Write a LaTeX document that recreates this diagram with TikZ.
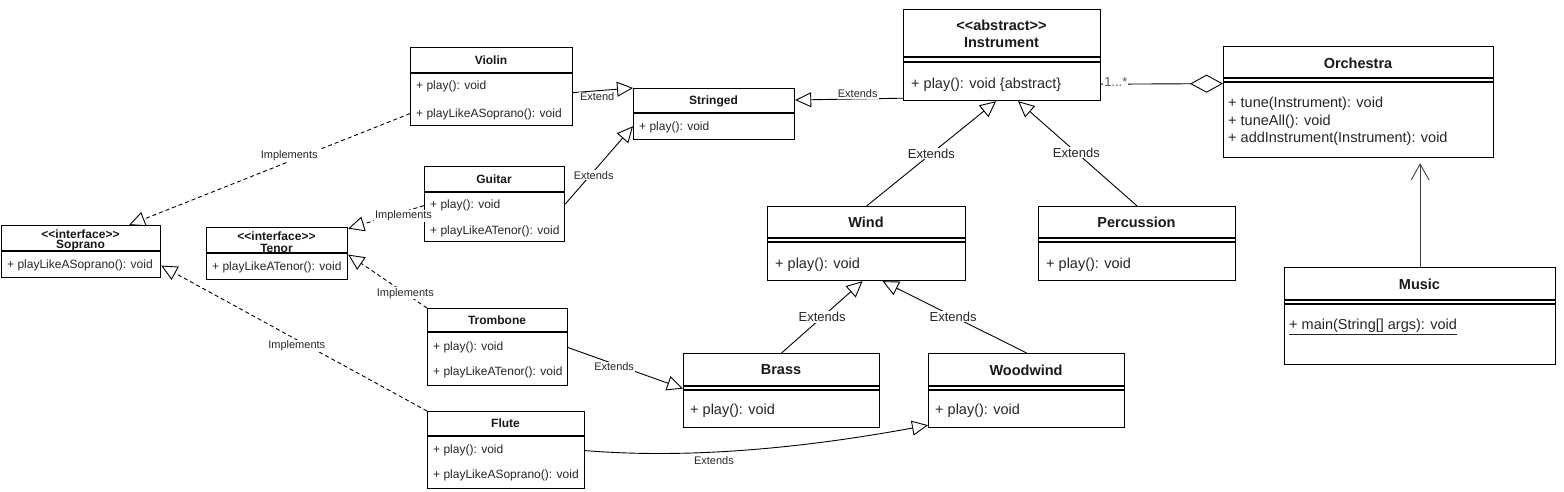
\documentclass[tikz,border=0pt]{standalone}
\usepackage{fontspec}
\setmainfont{Liberation Sans}
\usetikzlibrary{arrows.meta,calc}
\newcommand\stL{<\kern0pt<}
\newcommand\stR{>\kern0pt>}
\begin{document}
\begin{tikzpicture}[x=1pt,y=-1pt,
  box/.style={draw, line width=1.2pt, inner sep=0pt, anchor=north west},
  sep/.style={line width=1.1pt},
  ltitle/.style={font=\fontsize{12}{12}\bfseries, text=black!90, inner sep=0pt},
  lattr/.style={font=\fontsize{12}{13}\selectfont, anchor=west, inner sep=0pt, text=black!85},
  rtitle/.style={font=\fontsize{14.5}{15}\bfseries, text=black!90, inner sep=0pt},
  rattr/.style={font=\fontsize{14.5}{16}\selectfont, anchor=west, inner sep=0pt, text=black!85},
  lbl/.style={font=\fontsize{11}{12}\selectfont, fill=white, inner sep=1pt, text=black!85},
  rlbl/.style={font=\fontsize{13}{14}\selectfont, fill=white, inner sep=1pt, text=black!85},
  ext/.style={line width=0.9pt, -{Triangle[open, length=16pt, width=15pt]}},
  impl/.style={ext, dash pattern=on 4pt off 3pt},
]
\fill[white] (0,0) rectangle (1564,492);
\useasboundingbox (0,0) rectangle (1564,492);

% ---------- Violin
\node[box, minimum width=162pt, minimum height=78pt] (violin) at (410,47) {};
\draw[sep] (410,73) -- (572,73);
\node[ltitle] at (491,60) {Violin};
\node[lattr] at (416,86) {+ play(): void};
\node[lattr] at (416,114) {+ playLikeASoprano(): void};

% ---------- Stringed
\node[box, minimum width=161pt, minimum height=51pt] (stringed) at (633,88) {};
\draw[sep] (633,113) -- (794,113);
\node[ltitle] at (713.5,101) {Stringed};
\node[lattr] at (639,127) {+ play(): void};

% ---------- Soprano
\node[box, minimum width=159pt, minimum height=52pt] (soprano) at (1,225) {};
\draw[sep] (1,251) -- (160,251);
\node[ltitle] at (80.5,234) {\stL interface\stR};
\node[ltitle] at (80.5,246) {Soprano};
\node[lattr] at (7,265) {+ playLikeASoprano(): void};

% ---------- Tenor
\node[box, minimum width=141pt, minimum height=52pt] (tenor) at (206,227) {};
\draw[sep] (206,253) -- (347,253);
\node[ltitle] at (276.5,236) {\stL interface\stR};
\node[ltitle] at (276.5,248) {Tenor};
\node[lattr] at (212,267) {+ playLikeATenor(): void};

% ---------- Guitar
\node[box, minimum width=140pt, minimum height=75pt] (guitar) at (424,166) {};
\draw[sep] (424,192) -- (564,192);
\node[ltitle] at (494,179) {Guitar};
\node[lattr] at (430,205) {+ play(): void};
\node[lattr] at (430,231) {+ playLikeATenor(): void};

% ---------- Trombone
\node[box, minimum width=140pt, minimum height=77pt] (trombone) at (427,308) {};
\draw[sep] (427,332) -- (567,332);
\node[ltitle] at (497,320) {Trombone};
\node[lattr] at (433,347) {+ play(): void};
\node[lattr] at (433,372) {+ playLikeATenor(): void};

% ---------- Flute
\node[box, minimum width=157pt, minimum height=77pt] (flute) at (427,411) {};
\draw[sep] (427,436) -- (584,436);
\node[ltitle] at (505.5,423) {Flute};
\node[lattr] at (433,450) {+ play(): void};
\node[lattr] at (433,475) {+ playLikeASoprano(): void};

% ---------- Instrument
\node[box, minimum width=197pt, minimum height=91pt] (instrument) at (903,9) {};
\draw[sep] (903,57) -- (1100,57);
\draw[sep] (903,62) -- (1100,62);
\node[rtitle] at (1001.5,25) {\stL abstract\stR};
\node[rtitle] at (1001.5,43) {Instrument};
\node[rattr] at (911,85) {+ play(): void \{abstract\}};

% ---------- Orchestra
\node[box, minimum width=270pt, minimum height=111pt] (orchestra) at (1223,46) {};
\draw[sep] (1223,78) -- (1493,78);
\draw[sep] (1223,82) -- (1493,82);
\node[rtitle] at (1358,63) {Orchestra};
\node[rattr] at (1228,104) {+ tune(Instrument): void};
\node[rattr] at (1228,122) {+ tuneAll(): void};
\node[rattr] at (1228,139) {+ addInstrument(Instrument): void};

% ---------- Wind
\node[box, minimum width=198pt, minimum height=74pt] (wind) at (767,206) {};
\draw[sep] (767,238) -- (965,238);
\draw[sep] (767,242) -- (965,242);
\node[rtitle] at (866,222) {Wind};
\node[rattr] at (775,265) {+ play(): void};

% ---------- Percussion
\node[box, minimum width=197pt, minimum height=74pt] (percussion) at (1038,206) {};
\draw[sep] (1038,238) -- (1235,238);
\draw[sep] (1038,242) -- (1235,242);
\node[rtitle] at (1136.5,222) {Percussion};
\node[rattr] at (1046,265) {+ play(): void};

% ---------- Brass
\node[box, minimum width=196pt, minimum height=74pt] (brass) at (683,353) {};
\draw[sep] (683,386) -- (879,386);
\draw[sep] (683,390) -- (879,390);
\node[rtitle] at (781,370) {Brass};
\node[rattr] at (690,411) {+ play(): void};

% ---------- Woodwind
\node[box, minimum width=196pt, minimum height=74pt] (woodwind) at (928,353) {};
\draw[sep] (928,386) -- (1124,386);
\draw[sep] (928,390) -- (1124,390);
\node[rtitle] at (1026,370) {Woodwind};
\node[rattr] at (935,411) {+ play(): void};

% ---------- Music
\node[box, minimum width=271pt, minimum height=97pt] (music) at (1284,267) {};
\draw[sep] (1284,300) -- (1555,300);
\draw[sep] (1284,304) -- (1555,304);
\node[rtitle] at (1419.5,284) {Music};
\node[rattr] at (1289,327) {\underline{+ main(String[] args): void}};

% ---------- Generalisations
\draw[ext] ($(violin.east)+(0,6)$) -- node[lbl, pos=0.4, yshift=-6pt] {Extend} (stringed.north west);
\draw[ext] (guitar.east) -- node[lbl, pos=0.42, yshift=-4pt] {Extends} ($(stringed.south west)+(0,-14)$);
\draw[ext] ($(instrument.south west)+(0,-3)$) -- node[lbl, pos=0.42, yshift=5pt] {Extends} ($(stringed.north east)+(0,12)$);
\draw[ext] (wind.north) -- node[rlbl, pos=0.5] {Extends} ($(instrument.south)+(-6,0)$);
\draw[ext] (percussion.north) -- node[rlbl, pos=0.51] {Extends} ($(instrument.south)+(16,0)$);
\draw[ext] (brass.north) -- node[rlbl, pos=0.5] {Extends} ($(wind.south)+(-4,0)$);
\draw[ext] (woodwind.north) -- node[rlbl, pos=0.51] {Extends} ($(wind.south)+(16,0)$);
\draw[ext] ($(trombone.east)+(0,0.5)$) -- node[lbl, pos=0.4, yshift=-3pt] {Extends} ($(brass.west)+(0,-2)$);
\draw[ext] ($(flute.east)+(0,0.5)$) .. controls (700,460) and (820,445) .. ($(woodwind.south west)+(0,-3)$) node[lbl, pos=0.37, yshift=-9pt] {Extends};

% ---------- Realisations
\draw[impl] ($(violin.west)+(0,27)$) -- node[lbl, pos=0.43, yshift=6pt] {Implements} ($(soprano.north)+(48,0)$);
\draw[impl] ($(guitar.west)+(0,1.5)$) -- node[lbl, pos=0.27, yshift=-4pt] {Implements} ($(tenor.east)+(0,-25)$);
\draw[impl] (trombone.north west) -- node[lbl, pos=0.275] {Implements} ($(tenor.east)+(0,1)$);
\draw[impl] (flute.north west) -- node[lbl, pos=0.49, yshift=-6pt] {Implements} ($(soprano.east)+(0,14)$);

% ---------- Aggregation and association
\draw[line width=0.9pt, -{Diamond[open, length=33pt, width=18pt]}] ($(instrument.south east)+(0,-17)$) -- node[font=\fontsize{13}{14}\selectfont, text=black!65, fill=white, inner sep=1pt, pos=0.12, yshift=2pt] {1...*} ($(orchestra.west)+(0,-18.5)$);
\draw[line width=0.9pt, black!75, -{Straight Barb[length=16pt, width=18pt]}] (music.north) -- ($(orchestra.south)+(61.5,5)$);
\end{tikzpicture}
\end{document}
